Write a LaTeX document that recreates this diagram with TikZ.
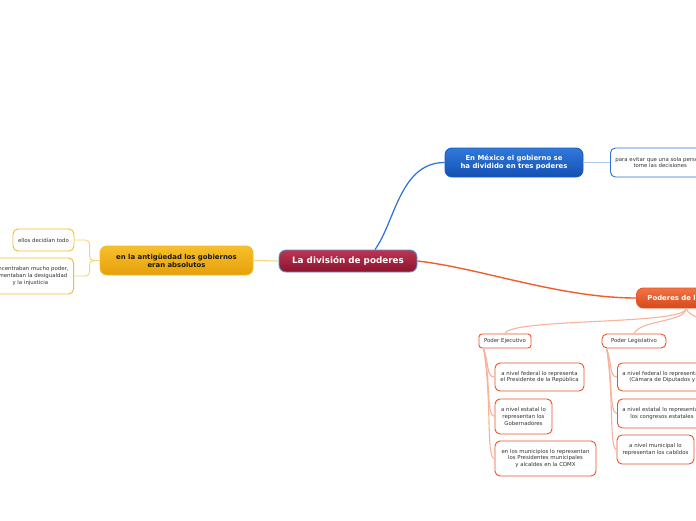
\documentclass[tikz,border=0pt]{standalone}
\usepackage{fontspec}
\setmainfont{DejaVu Sans}
\begin{document}
\begin{tikzpicture}[x=1pt,y=-1pt,
  mainbox/.style={rounded corners=7pt, line width=0.9pt, text=white, font=\bfseries\fontsize{6.9}{8.2}\selectfont, align=center, inner sep=0pt},
  leafbox/.style={rounded corners=5pt, line width=0.9pt, fill=white, text=black!80, font=\fontsize{5.4}{6.7}\selectfont, align=center, inner sep=0pt},
  orleaf/.style={leafbox, draw=orbor},
  orline/.style={draw=orlight, line width=1.1pt},
]
\definecolor{orbor}{HTML}{E8532A}
\definecolor{ormain}{HTML}{EF5F2E}
\definecolor{orlight}{HTML}{F7B49C}
\definecolor{ylbor}{HTML}{F2BC2A}
\definecolor{ylline}{HTML}{F6D47A}
\definecolor{blline}{HTML}{2A6FDC}
\definecolor{bllight}{HTML}{A9C9F2}
\definecolor{crtop}{HTML}{BC3552}
\definecolor{crbot}{HTML}{8A132E}
\definecolor{crbor}{HTML}{5B93D3}
\definecolor{bltop}{HTML}{3079DA}
\definecolor{blbot}{HTML}{1450B4}
\definecolor{blbor}{HTML}{1C5CC4}
\definecolor{yltop}{HTML}{F7BF2C}
\definecolor{ylbot}{HTML}{E5A00A}
\definecolor{ortop}{HTML}{F07444}
\definecolor{orbot}{HTML}{D8491A}
\useasboundingbox (0,0) rectangle (696,520);
\fill[white] (0,0) rectangle (696,520);

% main nodes
\node[mainbox, draw=crbor, top color=crtop, bottom color=crbot, minimum width=138pt, minimum height=22pt, font=\bfseries\fontsize{8.8}{10}\selectfont] (c) at (348,261) {La división de poderes};
\node[mainbox, draw=blbor, top color=bltop, bottom color=blbot, minimum width=138pt, minimum height=29pt] (mx) at (514,162.5) {En México el gobierno se\\ha dividido en tres poderes};
\node[mainbox, draw=ylbor, top color=yltop, bottom color=ylbot, text=black!90, minimum width=153pt, minimum height=29pt] (an) at (176.5,260.5) {en la antigüedad los gobiernos\\eran absolutos};
\node[mainbox, draw=orbor, top color=ortop, bottom color=orbot, minimum height=20pt, anchor=west, inner xsep=11pt] (pu) at (636,298) {Poderes de la Unión};

% yellow leaves
\node[leafbox, draw=ylbor, minimum width=61pt, minimum height=22pt] (y1) at (43.5,240) {ellos decidían todo};
\node[leafbox, draw=ylbor, minimum height=36pt, inner xsep=5pt, anchor=east] (y2) at (74,276) {concentraban mucho poder,\\fomentaban la desigualdad\\y la injusticia};

% blue leaf
\node[leafbox, draw=blline, minimum height=29pt, inner xsep=5pt, anchor=west] (pe) at (610,162.5) {para evitar que una sola persona\\tome las decisiones};

% sub nodes
\node[orleaf, rounded corners=3pt, minimum width=52pt, minimum height=14pt] (ej) at (505,341) {Poder Ejecutivo};
\node[orleaf, rounded corners=5pt, minimum width=64pt, minimum height=14pt] (le) at (634,341) {Poder Legislativo};
\coordinate (ju) at (730,330);

% ejecutivo leaves
\node[orleaf, minimum width=89pt, minimum height=28pt] (e1) at (539.5,377) {a nivel federal lo representa\\el Presidente de la República};
\node[orleaf, minimum width=57pt, minimum height=35pt] (e2) at (523.5,416.5) {a nivel estatal lo\\representan los\\Gobernadores};
\node[orleaf, minimum width=101pt, minimum height=35pt] (e3) at (545.5,458.5) {en los municipios lo representan\\los Presidentes municipales\\y alcaldes en la CDMX};

% legislativo leaves
\node[orleaf, minimum height=28pt, inner xsep=5pt, anchor=west] (l1) at (617,377) {a nivel federal lo representan\\(Cámara de Diputados y};
\node[orleaf, minimum height=29pt, inner xsep=5pt, anchor=west] (l2) at (617,413.5) {a nivel estatal lo representan\\los congresos estatales};
\node[orleaf, minimum width=77pt, minimum height=29pt] (l3) at (655.5,449.5) {a nivel municipal lo\\representan los cabildos};

% connectors
\draw[blline, line width=1.2pt] ([xshift=27pt]c.north) .. controls (395,222) and (400,162.5) .. (mx.west);
\draw[ormain, line width=1.4pt] (c.east) .. controls (480,268) and (560,298) .. (pu.west);
\draw[ylline, line width=1.1pt] (c.west) -- (an.east);
\draw[ylline, line width=0.9pt, rounded corners=4pt] (an.west) -- ++(-10,0) |- (y1.east);
\draw[ylline, line width=0.9pt, rounded corners=4pt] (an.west) -- ++(-10,0) |- (y2.east);
\draw[bllight, line width=1.3pt] (mx.east) -- (pe.west);

\draw[orline] ([xshift=50pt]pu.south west) .. controls (686,325) and (510,318) .. (ej.north);
\draw[orline] ([xshift=50pt]pu.south west) .. controls (686,322) and (640,320) .. (le.north);
\draw[orline] ([xshift=50pt]pu.south west) .. controls (690,318) and (705,318) .. (ju);

\draw[orline] ([xshift=5pt]ej.south west) .. controls (489,362) and (486,377) .. (e1.west);
\draw[orline] ([xshift=5pt]ej.south west) .. controls (491,380) and (486,416.5) .. (e2.west);
\draw[orline] ([xshift=5pt]ej.south west) .. controls (492,400) and (486,458.5) .. (e3.west);

\draw[orline] ([xshift=5pt]le.south west) .. controls (612,362) and (609,377) .. (l1.west);
\draw[orline] ([xshift=5pt]le.south west) .. controls (613,378) and (609,413.5) .. (l2.west);
\draw[orline] ([xshift=5pt]le.south west) .. controls (614,395) and (609,449.5) .. (l3.west);
\end{tikzpicture}
\end{document}
